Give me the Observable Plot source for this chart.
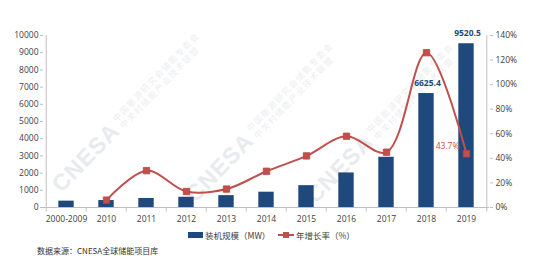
<!DOCTYPE html>
<html><head><meta charset="utf-8">
<script src="https://cdn.jsdelivr.net/npm/d3@7"></script>
<script src="https://cdn.jsdelivr.net/npm/@observablehq/plot@0.6"></script>
<style>
html,body{margin:0;padding:0;background:#fff;}
#wrap{position:relative;width:534px;height:270px;overflow:hidden;font-family:"Open Sans","Noto Sans CJK SC",sans-serif;}
#chart{position:absolute;left:0;top:0;z-index:1;}
.wm{position:absolute;z-index:0;}
.wm .in{transform-origin:0 0;transform:rotate(-46deg) translateY(-100%);display:flex;align-items:flex-end;white-space:nowrap;color:#e8ebee;}
.wm .big{font-family:"Liberation Sans",sans-serif;font-weight:bold;font-size:23px;line-height:20px;letter-spacing:1px;}
.wm .small{font-family:"Noto Sans CJK SC";font-size:8.5px;line-height:10px;margin-left:4px;margin-bottom:1px;letter-spacing:1.5px;color:#eceef0;}
#legend{position:absolute;left:0;top:228px;width:534px;height:14px;z-index:2;font-family:"Noto Sans CJK SC",sans-serif;font-size:8.5px;color:#404040;}
#source{position:absolute;left:37px;top:245px;z-index:2;font-family:"Noto Sans CJK SC",sans-serif;font-size:8px;color:#333;}
</style></head>
<body>
<div id="wrap">
  <div class="wm" style="left:63px;top:195px"><div class="in"><span class="big">CNESA</span><span class="small">中国能源研究会储能专委会<br>中关村储能产业技术联盟</span></div></div>
  <div class="wm" style="left:197px;top:205px"><div class="in"><span class="big">CNESA</span><span class="small">中国能源研究会储能专委会<br>中关村储能产业技术联盟</span></div></div>
  <div class="wm" style="left:317px;top:206px"><div class="in"><span class="big">CNESA</span><span class="small">中国能源研究会储能专委会<br>中关村储能产业技术联盟</span></div></div>
  <div id="chart"></div>
  <div id="legend"></div>
  <div id="source">数据来源：CNESA全球储能项目库</div>
</div>
<script>
// ---- data ----
const categories = ["2000-2009","2010","2011","2012","2013","2014","2015","2016","2017","2018","2019"];
const capacityMW = [370, 405, 525, 595, 690, 890, 1270, 2010, 2920, 6625.4, 9520.5];
const rateCategories = ["2010","2011","2012","2013","2014","2015","2016","2017","2018","2019"];
const growthRate = [6, 30, 13, 15, 29.5, 42, 58, 45, 126, 43.7];
const leftTicks = [0,1000,2000,3000,4000,5000,6000,7000,8000,9000,10000];
const rightTicks = [0,20,40,60,80,100,120,140];
const barLabels = [{cat:"2018", v:6625.4, label:"6625.4"},{cat:"2019", v:9520.5, label:"9520.5"}];
const rateLabel = {cat:"2019", v:43.7, label:"43.7%"};
const seriesNames = ["装机规模（MW）","年增长率（%）"];

// ---- styles ----
const W = 534, H = 225, ML = 43, MR = 45, MT = 35, MB = 18;
const step = (W - ML - MR) / categories.length;
const blue = "#1f497d", red = "#c0504d", axisGray = "#bfbfbf";
const k = 10000 / 140; // rate -> left-scale units

const bars = categories.map((c,i)=>({cat:c, mw:capacityMW[i]}));
const rates = rateCategories.map((c,i)=>({cat:c, rate:growthRate[i]}));

const chart = Plot.plot({
  width: W, height: H,
  marginLeft: ML, marginRight: MR, marginTop: MT, marginBottom: MB,
  style: {background:"transparent", fontFamily:"'Open Sans','Noto Sans CJK SC',sans-serif", fontSize:"8.5px", color:"#404040"},
  x: {type:"band", domain: categories, padding: 0, label: null},
  y: {domain:[0,10000], label: null},
  marks: [
    Plot.barY(bars, {x:"cat", y:"mw", fill: blue, insetLeft: 12.3, insetRight: 12.3}),
    Plot.ruleY([0], {stroke: axisGray}),
    Plot.ruleX([categories[0]], {dx: -step/2, y1: () => 0, y2: () => 10000, stroke: axisGray}),
    Plot.ruleX([categories[categories.length-1]], {dx: step/2, y1: () => 0, y2: () => 10000, stroke: axisGray}),
    Plot.ruleX(categories, {dx: -step/2, y1: () => 0, y2: () => -260, stroke: axisGray}),
    Plot.ruleX([categories[categories.length-1]], {dx: step/2, y1: () => 0, y2: () => -260, stroke: axisGray}),
    Plot.axisY({anchor:"left", ticks: leftTicks, tickSize: 3, stroke: axisGray, tickPadding: 2, tickFormat: d => String(d), fill:"#404040"}),
    Plot.axisY({anchor:"right", ticks: rightTicks.map(v=>v*k), tickSize: 3, stroke: axisGray, tickPadding: 3, tickFormat: d => Math.round(d/k) + "%", fill:"#404040"}),
    Plot.axisX({tickSize: 0, tickPadding: 8, fill:"#404040"}),
    Plot.lineY(rates, {x:"cat", y: d => d.rate*k, stroke: red, strokeWidth: 2, curve: "catmull-rom"}),
    Plot.dot(rates, {x:"cat", y: d => d.rate*k, symbol:"square", r: 3.6, fill: red, stroke:"#b94441", strokeWidth: 0.8}),
    Plot.text(barLabels, {x:"cat", y:"v", text:"label", dy: -10, dx: 1, fill: blue, fontWeight:"bold", fontSize: 8.5}),
    Plot.text([rateLabel], {x:"cat", y: d => d.v*k, text:"label", dx: -7, dy: -8, textAnchor:"end", fill: red, fontSize: 8.5})
  ]
});
document.getElementById("chart").appendChild(chart);

// legend
const lg = document.getElementById("legend");
lg.innerHTML =
  `<div style="position:absolute;left:188px;top:4px;width:15px;height:6px;background:${blue}"></div>`+
  `<div style="position:absolute;left:205px;top:0px;line-height:14px">${seriesNames[0]}</div>`+
  `<div style="position:absolute;left:278px;top:6px;width:16px;height:2px;background:${red}"></div>`+
  `<div style="position:absolute;left:283px;top:4px;width:6px;height:6px;background:${red}"></div>`+
  `<div style="position:absolute;left:296px;top:0px;line-height:14px">${seriesNames[1]}</div>`;
</script>
</body></html>
